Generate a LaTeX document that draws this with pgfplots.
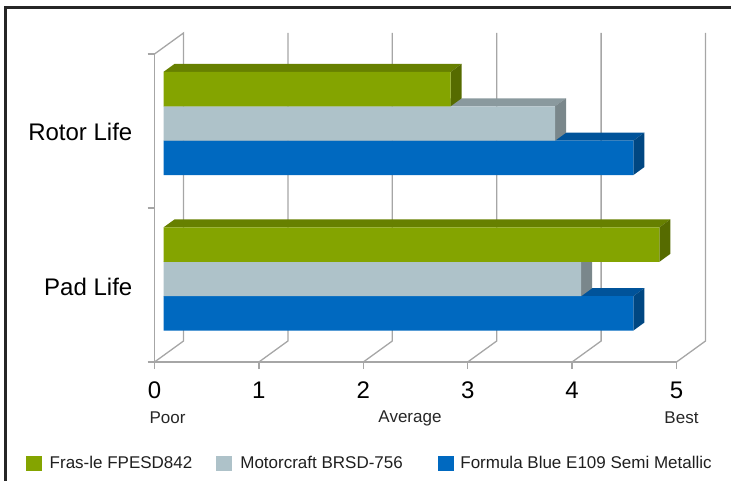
\documentclass[border=0pt]{standalone}
\usepackage{pgfplots}
\pgfplotsset{compat=1.18}
\usepackage{fontspec}
\setmainfont{Liberation Sans}
\definecolor{grn}{HTML}{84A400}
\definecolor{grnT}{HTML}{678000}
\definecolor{grnS}{HTML}{566B00}
\definecolor{gry}{HTML}{AEC2C9}
\definecolor{gryT}{HTML}{8A999E}
\definecolor{gryS}{HTML}{7A878B}
\definecolor{blu}{HTML}{0069C0}
\definecolor{bluT}{HTML}{00539A}
\definecolor{bluS}{HTML}{004782}
\definecolor{gridc}{HTML}{A6A6A6}
\definecolor{frame}{HTML}{262626}
\begin{document}
\begin{tikzpicture}[x=1pt,y=1pt]
\useasboundingbox (0,0) rectangle (731,480);
\draw[line width=3pt, color=frame] (5.5,-20) -- (5.5,472.5) -- (760,472.5);
\begin{axis}[
  at={(148,118)}, anchor=south west,
  scale only axis, width=522pt, height=308pt,
  xmin=-0.0862, xmax=4.9138, ymin=118, ymax=426,
  clip=false,
  axis lines*=left,
  axis line style={draw=gridc, line width=1.3pt},
  tick align=outside,
  major tick length=7pt,
  tick style={draw=gridc, line width=1.3pt},
  xtick={-0.0862,0.9138,1.9138,2.9138,3.9138,4.9138},
  xticklabels={{0},{1},{2},{3},{4},{5}},
  xticklabel style={font=\fontsize{24}{28}\selectfont, inner sep=0pt, anchor=north, yshift=-13pt},
  ytick={118,272,426},
  yticklabels={},
  extra y ticks={193,348},
  extra y tick labels={{Pad Life},{Rotor Life}},
  extra y tick style={tick style={draw=none}, yticklabel style={font=\fontsize{24}{28}\selectfont, inner sep=0pt, anchor=east, xshift=-15pt}},
  legend columns=-1,
  legend image code/.code={\fill[#1] (0pt,-7.5pt) rectangle (16pt,7.5pt);},
  legend style={at={(axis description cs:-0.2471,-0.3295)}, anchor=west, draw=none, fill=none, inner sep=0pt,
     font=\fontsize{17}{20}\selectfont, text=black!88,
     nodes={inner sep=0pt},
     /tikz/column 1/.style={column sep=8pt},
     /tikz/column 2/.style={column sep=24pt},
     /tikz/column 3/.style={column sep=8pt},
     /tikz/column 4/.style={column sep=35.5pt},
     /tikz/column 5/.style={column sep=6pt}},
]
\addlegendimage{fill=grn, draw=none}\addlegendentry{Fras-le FPESD842}
\addlegendimage{fill=gry, draw=none}\addlegendentry{Motorcraft BRSD-756}
\addlegendimage{fill=blu, draw=none}\addlegendentry{Formula Blue E109 Semi Metallic}
% walls and floor
\addplot[draw=gridc, line width=1.3pt, forget plot] coordinates {(-0.0862,118) (0.1916,139) (0.1916,447) (-0.0862,426)};
\addplot[draw=gridc, line width=1.3pt, forget plot] coordinates {(0.9138,118) (1.1916,139) (1.1916,447)};
\addplot[draw=gridc, line width=1.3pt, forget plot] coordinates {(1.9138,118) (2.1916,139) (2.1916,447)};
\addplot[draw=gridc, line width=1.3pt, forget plot] coordinates {(2.9138,118) (3.1916,139) (3.1916,447)};
\addplot[draw=gridc, line width=1.3pt, forget plot] coordinates {(3.9138,118) (4.1916,139) (4.1916,447)};
\addplot[draw=gridc, line width=1.3pt, forget plot] coordinates {(4.9138,118) (5.1916,139) (5.1916,447)};
% blue series
\addplot[fill=bluT, draw=none, forget plot] coordinates {(0,339.3) (4.5,339.3) (4.6054,347.3) (0.1054,347.3)} -- cycle;
\addplot[fill=bluS, draw=none, forget plot] coordinates {(4.5,339.3) (4.5,304.9) (4.6054,312.9) (4.6054,347.3)} -- cycle;
\addplot[fill=bluT, draw=none, forget plot] coordinates {(0,183.8) (4.5,183.8) (4.6054,191.8) (0.1054,191.8)} -- cycle;
\addplot[fill=bluS, draw=none, forget plot] coordinates {(4.5,183.8) (4.5,149.4) (4.6054,157.4) (4.6054,191.8)} -- cycle;
\addplot[xbar, bar width=34.4, bar shift=0pt, fill=blu, draw=none, forget plot] coordinates {(4.5,322.1) (4.5,166.6)};
% gray series
\addplot[fill=gryT, draw=none, forget plot] coordinates {(0,373.7) (3.75,373.7) (3.8554,381.7) (0.1054,381.7)} -- cycle;
\addplot[fill=gryS, draw=none, forget plot] coordinates {(3.75,373.7) (3.75,339.3) (3.8554,347.3) (3.8554,381.7)} -- cycle;
\addplot[fill=gryT, draw=none, forget plot] coordinates {(0,218.2) (4,218.2) (4.1054,226.2) (0.1054,226.2)} -- cycle;
\addplot[fill=gryS, draw=none, forget plot] coordinates {(4,218.2) (4,183.8) (4.1054,191.8) (4.1054,226.2)} -- cycle;
\addplot[xbar, bar width=34.4, bar shift=0pt, fill=gry, draw=none, forget plot] coordinates {(3.75,356.5) (4,201)};
% green series
\addplot[fill=grnT, draw=none, forget plot] coordinates {(0,408.1) (2.75,408.1) (2.8554,416.1) (0.1054,416.1)} -- cycle;
\addplot[fill=grnS, draw=none, forget plot] coordinates {(2.75,408.1) (2.75,373.7) (2.8554,381.7) (2.8554,416.1)} -- cycle;
\addplot[fill=grnT, draw=none, forget plot] coordinates {(0,252.6) (4.75,252.6) (4.8554,260.6) (0.1054,260.6)} -- cycle;
\addplot[fill=grnS, draw=none, forget plot] coordinates {(4.75,252.6) (4.75,218.2) (4.8554,226.2) (4.8554,260.6)} -- cycle;
\addplot[xbar, bar width=34.4, bar shift=0pt, fill=grn, draw=none, forget plot] coordinates {(2.75,390.9) (4.75,235.4)};
\end{axis}
\node[font=\fontsize{17}{20}\selectfont, text=black!85] at (167.5,62) {Poor};
\node[font=\fontsize{17}{20}\selectfont, text=black!85] at (410,62) {Average};
\node[font=\fontsize{17}{20}\selectfont, text=black!85] at (681.5,62) {Best};
\end{tikzpicture}
\end{document}
